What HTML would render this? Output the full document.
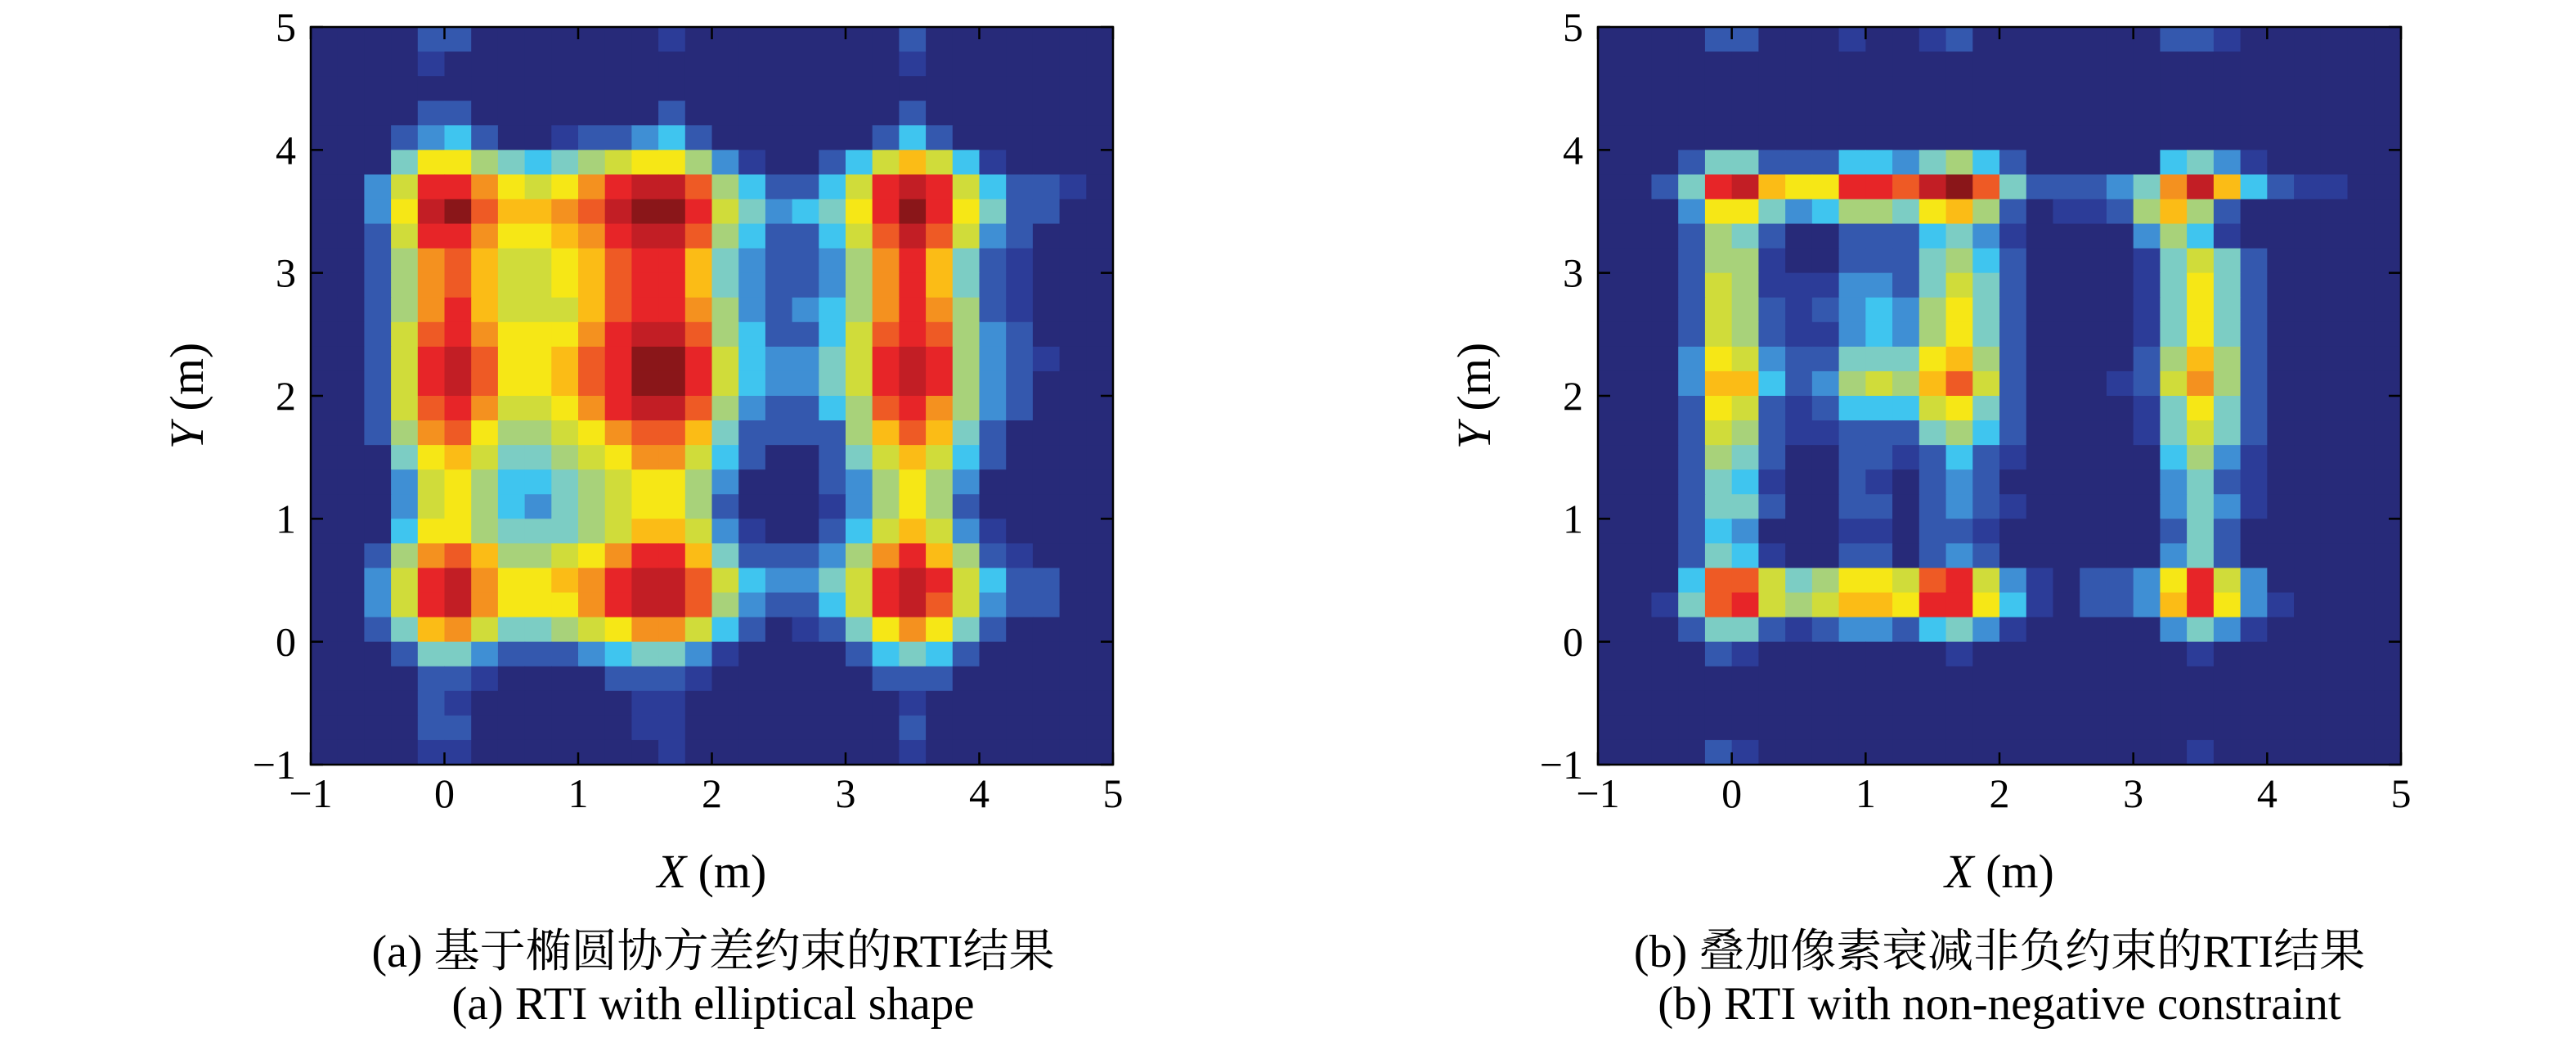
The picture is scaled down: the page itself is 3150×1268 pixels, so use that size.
<!DOCTYPE html>
<html>
<head>
<meta charset="utf-8">
<style>
html,body{margin:0;padding:0;background:#fff;}
svg{display:block;}
text{font-family:"Liberation Serif","Noto Serif CJK SC",serif;fill:#000;}
</style>
</head>
<body>
<svg id="fig" width="3150" height="1268" viewBox="0 0 3150 1268" xmlns="http://www.w3.org/2000/svg">
  <rect width="3150" height="1268" fill="#fff"/>
  <g id="panelA"></g>
  <g id="panelB"></g>
  <text x="872" y="1182" font-size="56" text-anchor="middle">(a) 基于椭圆协方差约束的RTI结果</text>
  <text x="872" y="1246" font-size="57" text-anchor="middle">(a) RTI with elliptical shape</text>
  <text x="2445" y="1182" font-size="56" text-anchor="middle">(b) 叠加像素衰减非负约束的RTI结果</text>
  <text x="2445" y="1246" font-size="57" text-anchor="middle">(b) RTI with non-negative constraint</text>
</svg>
<script>
// ---- data ----
const xTicks = [-1, 0, 1, 2, 3, 4, 5];
const yTicks = [-1, 0, 1, 2, 3, 4, 5];
const gridMin = -1, gridMax = 5, gridN = 30;
// intensity levels 0..14 (hex digit per cell), rows from top (y=5) to bottom (y=-1)
const gridA = [
"000022000000010000000020000000",
"000010000000000000000010000000",
"000000000000000000000000000000",
"000022000000020000000020000000",
"000234200122342000000242000000",
"000588654567886310024797410000",
"0037cca878acddb642247cdc742210",
"0038deb99abdeec753458cec852200",
"0027cca889acddb642247bdb732000",
"0026ab97789bcc9532236ac9521000",
"0026ab97789bcc9532236ac9521000",
"0026ac97779bcca632346aca621000",
"0027bca888acddb642247bcb632000",
"0027cdb889bceec743357cdc632100",
"0027cdb889bceec743357cdc632000",
"0027bca778acddb632246bca632000",
"0026ab86678abb95222269b9520000",
"000589755678aa7420025797420000",
"000378644567886300023686300000",
"000378643567886200013686200000",
"000488655567997310024797310000",
"0026ab96678acc9522236ac9621000",
"0037cda889acddb743357cdc742200",
"0037cda888acddb632247cdb732200",
"00259a755678aa74201258a8520000",
"000255322234553100002454200000",
"000022100002221000000222000000",
"000021000000110000000010000000",
"000022000000110000000020000000",
"000011000000010000000010000000"
];
const gridB = [
"000022000100120000000221000000",
"000000000000000000000000000000",
"000000000000000000000000000000",
"000000000000000000000000000000",
"000000000000000000000000000000",
"000255222443564200000453100000",
"0025cd988ccbdeb522235ad9421100",
"000388534665896201126962000000",
"000265200222453100003641000000",
"000266100222564200001575200000",
"000276111332575200001585200000",
"000276212343685200001585200000",
"000276211343685200001585200000",
"000387322555896200002696200000",
"0003994236769b72000127a6200000",
"000287212444785200001585200000",
"000276211222564200001575200000",
"000265200221242100000463100000",
"000254100210232000000352100000",
"000255200220232100000353100000",
"000243000110221000000252000000",
"000254100220232000000352000000",
"0004bb756887bc73102238c7300000",
"0015bc767998cc84102239c8310000",
"000255212332453100000353100000",
"000021000000010000000010000000",
"000000000000000000000000000000",
"000000000000000000000000000000",
"000000000000000000000000000000",
"000021000000000000000010000000"
];
const palette = ["#272a79","#2c3c98","#3458ae","#3f8fd4","#3fc5ef","#7ccdc4","#a8d27a","#d0dc3a","#f6e716","#fbbc16","#f4911f","#ee5a25","#e72528","#c21e25","#8a1619"];

const NS = "http://www.w3.org/2000/svg";
function mk(tag, attrs, parent){
  const e = document.createElementNS(NS, tag);
  for (const k in attrs) e.setAttribute(k, attrs[k]);
  parent.appendChild(e);
  return e;
}

function drawPanel(g, grid, L, T, R, B, key){
  const sx = v => L + (v - gridMin) / (gridMax - gridMin) * (R - L);
  const sy = v => B - (v - gridMin) / (gridMax - gridMin) * (B - T);
  const cell = (gridMax - gridMin) / gridN;
  const hm = mk('g', {}, g);
  
  
  grid.forEach((row, r) => {
    for (let c = 0; c < gridN; c++) {
      const ch = row[c] || '0';
      const lv = parseInt(ch, 16) || 0;
      const x0 = sx(gridMin + c * cell), x1 = sx(gridMin + (c + 1) * cell);
      const yTop = sy(gridMax - r * cell), yBot = sy(gridMax - (r + 1) * cell);
      const rc = mk('rect', {x: x0, y: yTop, width: x1 - x0 + 0.6, height: yBot - yTop + 0.6, fill: palette[Math.min(lv, palette.length - 1)]}, hm);
      
      
    }
  });
  const frame = mk('rect', {x: L, y: T, width: R - L, height: B - T, fill: 'none', stroke: '#000', 'stroke-width': 2.5}, g);
  
  
  const tl = 15;
  xTicks.forEach(v => {
    const x = sx(v);
    mk('line', {x1: x, y1: B, x2: x, y2: B - tl, stroke: '#000', 'stroke-width': 2.5}, g);
    mk('line', {x1: x, y1: T, x2: x, y2: T + tl, stroke: '#000', 'stroke-width': 2.5}, g);
    const t = mk('text', {x: x, y: B + 52, 'font-size': 50, 'text-anchor': 'middle'}, g);
    t.textContent = v < 0 ? '\u2212' + Math.abs(v) : String(v);
    
    
  });
  yTicks.forEach(v => {
    const y = sy(v);
    mk('line', {x1: L, y1: y, x2: L + tl, y2: y, stroke: '#000', 'stroke-width': 2.5}, g);
    mk('line', {x1: R, y1: y, x2: R - tl, y2: y, stroke: '#000', 'stroke-width': 2.5}, g);
    const t = mk('text', {x: L - 18, y: y + 17, 'font-size': 50, 'text-anchor': 'end'}, g);
    t.textContent = v < 0 ? '\u2212' + Math.abs(v) : String(v);
    
    
  });
  const xl = mk('text', {x: (L + R) / 2, y: B + 150, 'font-size': 58, 'text-anchor': 'middle'}, g);
  xl.innerHTML = '<tspan font-style="italic">X</tspan> (m)';
  
  
  const cy = (T + B) / 2, cx = L - 132;
  const yl = mk('text', {x: cx, y: cy, 'font-size': 58, 'text-anchor': 'middle', transform: 'rotate(-90 ' + cx + ' ' + cy + ')'}, g);
  yl.innerHTML = '<tspan font-style="italic">Y</tspan> (m)';
  
  
}

drawPanel(document.getElementById('panelA'), gridA, 380, 33, 1361, 935, 'panel-a');
drawPanel(document.getElementById('panelB'), gridB, 1954, 33, 2936, 935, 'panel-b');
</script>
</body>
</html>
